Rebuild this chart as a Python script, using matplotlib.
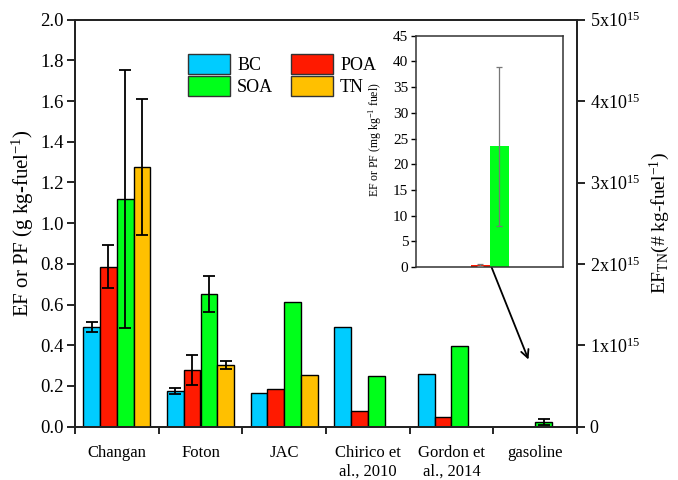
import numpy as np
import matplotlib
matplotlib.use("Agg")
import matplotlib.pyplot as plt
from matplotlib.patches import Patch
from matplotlib.ticker import FuncFormatter, MultipleLocator

plt.rcParams['font.family'] = ['Liberation Serif', 'DejaVu Serif']
plt.rcParams['mathtext.fontset'] = 'custom'
plt.rcParams['mathtext.rm'] = 'Liberation Serif'
plt.rcParams['mathtext.it'] = 'Liberation Serif:italic'
plt.rcParams['mathtext.bf'] = 'Liberation Serif:bold'

# ---------------- data ----------------
categories = ["Changan", "Foton", "JAC", "Chirico et\nal., 2010", "Gordon et\nal., 2014", "gasoline"]
nan = np.nan
BC = [0.49, 0.175, 0.164, 0.488, 0.257, nan]
BC_err = [0.025, 0.013, nan, nan, nan, nan]
POA = [0.786, 0.279, 0.187, 0.079, 0.046, nan]
POA_err = [0.105, 0.073, nan, nan, nan, nan]
SOA = [1.12, 0.651, 0.611, 0.251, 0.398, 0.0235]
SOA_err = [0.635, 0.089, nan, nan, nan, 0.0155]
TN = [3.19e15, 7.6e14, 6.4e14, nan, nan, nan]          # # kg-fuel^-1
TN_err = [8.4e14, 5.0e13, nan, nan, nan, nan]

# inset (gasoline, mg kg^-1 fuel)
inset_labels = ["POA", "SOA"]
inset_vals = [0.3, 23.5]
inset_err = [0.2, 15.5]

series_names = ["BC", "POA", "SOA", "TN"]
colors = {"BC": "#00CCFF", "POA": "#FF1A00", "SOA": "#00FF1A", "TN": "#FFC000"}

# ---------------- figure ----------------
fig = plt.figure(figsize=(6.78, 4.8), dpi=100)
ax = fig.add_axes([75/678, 1-426.7/480, 502/678, 407/480])
ax2 = ax.twinx()

n = len(categories)
x0 = np.arange(n)
width = 0.2
offs = [0.1, 0.3, 0.5, 0.7]

ekw = dict(ecolor='black', elinewidth=1.3, capsize=4, capthick=1.3)

for s, vals, errs in [("BC", BC, BC_err), ("POA", POA, POA_err), ("SOA", SOA, SOA_err)]:
    i = series_names.index(s)
    v = np.array(vals, dtype=float)
    e = np.array(errs, dtype=float)
    m = ~np.isnan(v)
    xs = x0[m] + offs[i]
    ax.bar(xs, v[m], width=width, align='edge', color=colors[s],
           edgecolor='black', linewidth=1.0, zorder=2)
    me = m & ~np.isnan(e)
    ax.errorbar(x0[me] + offs[i] + width/2, v[me], yerr=e[me], fmt='none', zorder=3, **ekw)

v = np.array(TN, dtype=float)
e = np.array(TN_err, dtype=float)
m = ~np.isnan(v)
ax2.bar(x0[m] + offs[3], v[m], width=width, align='edge', color=colors["TN"],
        edgecolor='black', linewidth=1.0, zorder=2)
me = m & ~np.isnan(e)
ax2.errorbar(x0[me] + offs[3] + width/2, v[me], yerr=e[me], fmt='none', zorder=3, **ekw)

ax.set_xlim(0, n)
ax.set_ylim(0, 2.0)
ax2.set_ylim(0, 5e15)

ax.set_xticks(np.arange(n + 1))
ax.set_xticklabels([])
ax.set_xticks(x0 + 0.5, minor=True)
ax.set_xticklabels(categories, minor=True, fontsize=12)
ax.tick_params(axis='x', which='minor', length=0, pad=13)
ax.tick_params(axis='x', which='major', direction='out', length=5, width=1.2)

ax.yaxis.set_major_locator(MultipleLocator(0.2))
ax.yaxis.set_major_formatter(FuncFormatter(lambda y, p: f"{y:.1f}"))
ax.tick_params(axis='y', direction='out', length=6, width=1.2, labelsize=13.5, pad=2)

ax2.set_yticks(np.arange(0, 6) * 1e15)
ax2.yaxis.set_major_formatter(FuncFormatter(
    lambda y, p: "0" if y == 0 else r"$%d\mathrm{x}10^{15}$" % round(y / 1e15)))
ax2.tick_params(axis='y', direction='out', length=6, width=1.2, labelsize=13, pad=3)

for a in (ax, ax2):
    for sp in a.spines.values():
        sp.set_linewidth(1.3)
        sp.set_color('#222222')

ax.set_ylabel(r"EF or PF (g kg-fuel$^{-1}$)", fontsize=15, labelpad=3)
ax2.set_ylabel(r"EF$_{\mathrm{TN}}$(# kg-fuel$^{-1}$)", fontsize=14, labelpad=6)

handles = [Patch(facecolor=colors[s], edgecolor='#333333', linewidth=1.0, label=s)
           for s in ["BC", "SOA", "POA", "TN"]]
fig.legend(handles=handles, ncol=2, frameon=False, fontsize=13,
           loc='upper left', bbox_to_anchor=(174/678, 1-40/480),
           handlelength=2.3, handleheight=1.3, handletextpad=0.4,
           columnspacing=1.0, labelspacing=0.12, borderpad=0.3)

# ---------------- inset ----------------
axin = fig.add_axes([416/678, 1-267/480, 147.3/678, (267-35.7)/480])
xi = np.arange(len(inset_labels))
axin.bar(xi, inset_vals, width=1.0, color=[colors["POA"], colors["SOA"]],
         edgecolor='none', zorder=2)
axin.errorbar(xi, inset_vals, yerr=inset_err, fmt='none', ecolor='#777777',
              elinewidth=0.9, capsize=2.5, capthick=0.9, zorder=3)
axin.set_xlim(-3.37, 4.38)
axin.set_ylim(0, 45)
axin.set_xticks([])
axin.yaxis.set_major_locator(MultipleLocator(5))
axin.tick_params(axis='y', direction='out', length=3.5, width=1.0, labelsize=11, pad=2)
for sp in axin.spines.values():
    sp.set_linewidth(1.1)
    sp.set_color('#333333')
axin.set_ylabel(r"EF or PF (mg kg$^{-1}$ fuel)", fontsize=8.5, labelpad=2)
axin.yaxis.set_label_coords(-0.22, 0.55)

# arrow from inset to gasoline bar
ax.annotate("", xy=(5.42, 0.33), xycoords=ax.transData,
            xytext=(0.6, 0), textcoords=axin.transData,
            arrowprops=dict(arrowstyle='->', color='black', lw=1.3,
                            mutation_scale=14, shrinkA=0, shrinkB=0))

fig.savefig("out.png", dpi=100)
